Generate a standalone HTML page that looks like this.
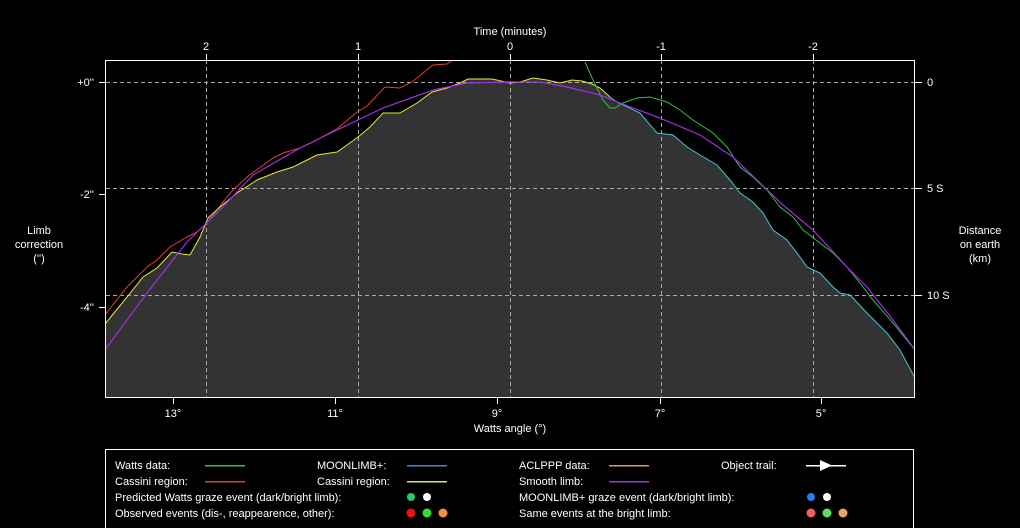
<!DOCTYPE html>
<html><head><style>
html,body{margin:0;padding:0;background:#000;}
svg{display:block;}
text{font-family:"Liberation Sans",sans-serif;font-size:11px;fill:#fff;}
</style></head><body>
<svg width="1020" height="528" viewBox="0 0 1020 528" xmlns="http://www.w3.org/2000/svg">
<rect width="1020" height="528" fill="#000"/>
<defs><clipPath id="c"><rect x="106" y="61" width="809" height="337"/></clipPath></defs>
<g clip-path="url(#c)">
<polygon fill="#333" points="105,324 127,297 143,277 157,268 172,252 182,254 190,255 200,237 208,218 220,207 237,193 257,180 277,172 293,167 317,155 337,152 347,145 358,137 370,127 383,113 400,113 417,103 432,92 447,88 460,83 468,79 492,79 510,83 520,82 533,78 547,80 560,83 572,80 582,81 592,84 600,88 610,97 617,102 640,113 657,133 673,135 687,147 700,155 717,165 730,180 740,193 753,202 763,213 773,230 787,240 800,257 807,267 820,273 833,287 840,293 850,295 867,313 887,333 900,350 915,378 915,398 105,398"/>
<g stroke="#aaa" stroke-width="1" stroke-dasharray="4,3" fill="none">
<line x1="106" y1="82.5" x2="915" y2="82.5"/>
<line x1="106" y1="188.5" x2="915" y2="188.5"/>
<line x1="106" y1="295.5" x2="915" y2="295.5"/>
<line x1="206.5" y1="60" x2="206.5" y2="398"/>
<line x1="358.5" y1="60" x2="358.5" y2="398"/>
<line x1="510.5" y1="60" x2="510.5" y2="398"/>
<line x1="661.5" y1="60" x2="661.5" y2="398"/>
<line x1="813.5" y1="60" x2="813.5" y2="398"/>
</g>
<polyline fill="none" stroke="#e0402a" stroke-width="1" points="105,315 127,287 147,267 157,260 170,247 187,237 197,232 207,223 227,197 233,190 247,177 273,158 283,153 300,148 313,142 337,129 357,112 367,106 385,87 400,88 412,82 433,65 447,64 455,58"/>
<polyline fill="none" stroke="#e8e840" stroke-width="1" points="105,324 127,297 143,277 157,268 172,252 182,254 190,255 200,237 208,218 220,207 237,193 257,180 277,172 293,167 317,155 337,152 347,145 358,137 370,127 383,113 400,113 417,103 432,92 447,88 460,83 468,79 492,79 510,83 520,82 533,78 547,80 560,83 572,80 582,81 592,84 600,88 610,97"/>
<polyline fill="none" stroke="#40c8d8" stroke-width="1" points="610,97 617,102 640,113 657,133 673,135 687,147 700,155 717,165 730,180 740,193 753,202 763,213 773,230 787,240 800,257 807,267 820,273 833,287 840,293 850,295 867,313 887,333 900,350 915,378"/>
<polyline fill="none" stroke="#30c040" stroke-width="1" points="585,62 593,80 603,100 610,108 615,108 623,103 637,98 650,97 667,102 680,110 693,120 713,133 727,147 740,167 753,177 767,190 780,207 793,217 803,230 820,243 833,253 847,267 860,283 873,300 893,323 915,350"/>
<polyline fill="none" stroke="#a030e0" stroke-width="1.2" points="105,350 147,293 187,242 220,210 253,175 300,148 337,130 383,108 433,90 467,83 510,82 540,82 567,87 600,95 633,108 660,118 700,135 733,157 760,183 783,205 813,230 847,267 867,287 893,320 915,350"/>
</g>
<rect x="105.5" y="60.5" width="809" height="337" fill="none" stroke="#fff"/>
<g stroke="#fff">
<line x1="99" y1="82.5" x2="105" y2="82.5"/><line x1="99" y1="194.5" x2="105" y2="194.5"/><line x1="99" y1="307.5" x2="105" y2="307.5"/>
<line x1="915" y1="82.5" x2="922" y2="82.5"/><line x1="915" y1="188.5" x2="922" y2="188.5"/><line x1="915" y1="295.5" x2="922" y2="295.5"/>
<line x1="173.5" y1="398" x2="173.5" y2="404"/><line x1="335.5" y1="398" x2="335.5" y2="404"/><line x1="497.5" y1="398" x2="497.5" y2="404"/><line x1="660.5" y1="398" x2="660.5" y2="404"/><line x1="821.5" y1="398" x2="821.5" y2="404"/>
<line x1="206.5" y1="54" x2="206.5" y2="60"/><line x1="358.5" y1="54" x2="358.5" y2="60"/><line x1="510.5" y1="54" x2="510.5" y2="60"/><line x1="661.5" y1="54" x2="661.5" y2="60"/><line x1="813.5" y1="54" x2="813.5" y2="60"/>
</g>
<g text-anchor="end">
<text x="94" y="86">+0''</text><text x="94" y="198">-2''</text><text x="94" y="311">-4''</text>
</g>
<g text-anchor="start">
<text x="927" y="86">0</text><text x="927" y="192">5 S</text><text x="927" y="299">10 S</text>
</g>
<g text-anchor="middle">
<text x="206" y="50">2</text><text x="358" y="50">1</text><text x="510" y="50">0</text><text x="661" y="50">-1</text><text x="813" y="50">-2</text>
<text x="510" y="35">Time (minutes)</text>
<text x="173" y="417">13°</text><text x="335" y="417">11°</text><text x="497" y="417">9°</text><text x="660" y="417">7°</text><text x="821" y="417">5°</text>
<text x="510" y="432">Watts angle (°)</text>
<text x="39" y="234">Limb</text><text x="39" y="248">correction</text><text x="39" y="262">('')</text>
<text x="980" y="234">Distance</text><text x="980" y="248">on earth</text><text x="980" y="262">(km)</text>
</g>
<rect x="105.5" y="449.5" width="808" height="82" fill="none" stroke="#fff"/>
<text x="115" y="469">Watts data:</text>
<text x="115" y="485">Cassini region:</text>
<text x="115" y="501">Predicted Watts graze event (dark/bright limb):</text>
<text x="115" y="517">Observed events (dis-, reappearence, other):</text>
<text x="317" y="469">MOONLIMB+:</text>
<text x="317" y="485">Cassini region:</text>
<text x="519" y="469">ACLPPP data:</text>
<text x="519" y="485">Smooth limb:</text>
<text x="519" y="501">MOONLIMB+ graze event (dark/bright limb):</text>
<text x="519" y="517">Same events at the bright limb:</text>
<text x="721" y="469">Object trail:</text>
<rect x="205" y="465" width="40" height="1.5" fill="#30c040"/>
<rect x="205" y="481" width="40" height="1.5" fill="#e0402a"/>
<rect x="407" y="465" width="40" height="1.5" fill="#3090e0"/>
<rect x="407" y="481" width="40" height="1.5" fill="#e8e840"/>
<rect x="609" y="465" width="40" height="1.5" fill="#e0a040"/>
<rect x="609" y="481" width="40" height="1.5" fill="#a030e0"/>
<rect x="806" y="465" width="40" height="1.5" fill="#fff"/>
<polygon points="820,460 832,465.5 820,471" fill="#fff"/>
<circle cx="411" cy="497" r="4" fill="#20d060"/><circle cx="427" cy="497" r="4" fill="#fff"/>
<circle cx="411" cy="513" r="4.5" fill="#f01010"/><circle cx="427" cy="513" r="4.5" fill="#30e030"/><circle cx="443" cy="513" r="4.5" fill="#f09040"/>
<circle cx="811" cy="497" r="4" fill="#2080f0"/><circle cx="827" cy="497" r="4" fill="#fff"/>
<circle cx="811" cy="513" r="4.5" fill="#f06060"/><circle cx="827" cy="513" r="4.5" fill="#60e060"/><circle cx="843" cy="513" r="4.5" fill="#f0a060"/>
</svg>
</body></html>
